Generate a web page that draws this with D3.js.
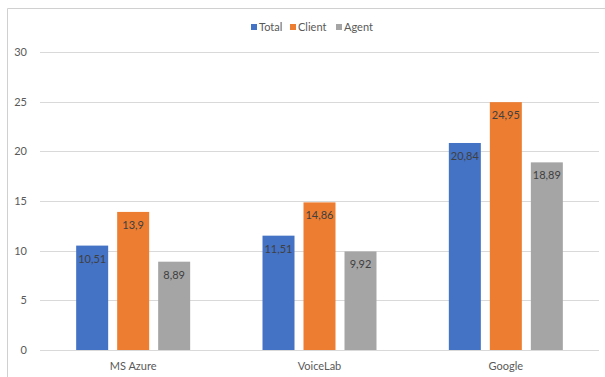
<!DOCTYPE html>
<html>
<head>
<meta charset="utf-8">
<script src="https://cdn.jsdelivr.net/npm/d3@7"></script>
<style>
  body { margin: 0; background: #fff; }
  svg { display: block; font-family: Lato, "Open Sans", sans-serif; }
</style>
</head>
<body>
<svg id="chart" width="605" height="377"></svg>
<script>
// chart data
const categories = ["MS Azure", "VoiceLab", "Google"];
const seriesNames = ["Total", "Client", "Agent"];
const total = [10.51, 11.51, 20.84];
const client = [13.9, 14.86, 24.95];
const agent = [8.89, 9.92, 18.89];
const yTicks = [0, 5, 10, 15, 20, 25, 30];
const colors = ["#4472c4", "#ed7d31", "#a5a5a5"];

const seriesValues = [total, client, agent];
const margin = {top: 52, right: 6, bottom: 27, left: 40};
const svg = d3.select("#chart");
const width = 605 - margin.left - margin.right;
const height = 377 - margin.top - margin.bottom;

// outer frame (top + left edges visible)
svg.append("path")
    .attr("d", "M7.5,377 L7.5,8.5 L605,8.5")
    .attr("fill", "none")
    .attr("stroke", "#d0d0d0")
    .attr("stroke-width", 1);

const x = d3.scaleBand().domain(categories).range([0, 559]).paddingInner(0).paddingOuter(0);
const bw = 32, gap = 9;
const y = d3.scaleLinear().domain([0, 30]).range([height, 0]);

const g = svg.append("g").attr("transform", "translate(" + margin.left + "," + margin.top + ")");

// gridlines
g.selectAll(".grid")
    .data(yTicks)
    .enter().append("line")
    .attr("x1", 0).attr("x2", 559)
    .attr("y1", d => Math.round(y(d)) + 0.5)
    .attr("y2", d => Math.round(y(d)) + 0.5)
    .attr("stroke", "#d9d9d9")
    .attr("stroke-width", 1);

// y tick labels
g.selectAll(".ytick")
    .data(yTicks)
    .enter().append("text")
    .attr("x", -13)
    .attr("y", d => y(d))
    .attr("dy", "0.35em")
    .attr("text-anchor", "end")
    .attr("font-size", 11)
    .attr("fill", "#595959")
    .text(d => d);

// x category labels
g.selectAll(".xlab")
    .data(categories)
    .enter().append("text")
    .attr("x", d => x(d) + x.bandwidth() / 2)
    .attr("y", height + 20)
    .attr("text-anchor", "middle")
    .attr("font-size", 11)
    .attr("fill", "#595959")
    .text(d => d);

// bars
seriesValues.forEach((vals, si) => {
    const off = (si - 1) * (bw + gap) - bw / 2;
    const grp = g.append("g");
    grp.selectAll("rect")
        .data(vals)
        .enter().append("rect")
        .attr("x", (d, i) => x(categories[i]) + x.bandwidth() / 2 + off)
        .attr("y", d => y(d))
        .attr("width", bw)
        .attr("height", d => height - y(d))
        .attr("fill", colors[si]);
    grp.selectAll("text")
        .data(vals)
        .enter().append("text")
        .attr("x", (d, i) => x(categories[i]) + x.bandwidth() / 2 + off + bw / 2)
        .attr("y", d => y(d) + 17)
        .attr("text-anchor", "middle")
        .attr("font-size", 11)
        .attr("fill", "#404040")
        .text(d => String(d).replace(".", ","));
});

// legend
const legendX = [251, 290, 336];
const legend = svg.append("g");
seriesNames.forEach((name, i) => {
    legend.append("rect")
        .attr("x", legendX[i]).attr("y", 24)
        .attr("width", 6).attr("height", 6)
        .attr("fill", colors[i]);
    legend.append("text")
        .attr("x", legendX[i] + 8).attr("y", 27)
        .attr("dy", "0.35em")
        .attr("font-size", 11)
        .attr("fill", "#595959")
        .text(name);
});
</script>
</body>
</html>
